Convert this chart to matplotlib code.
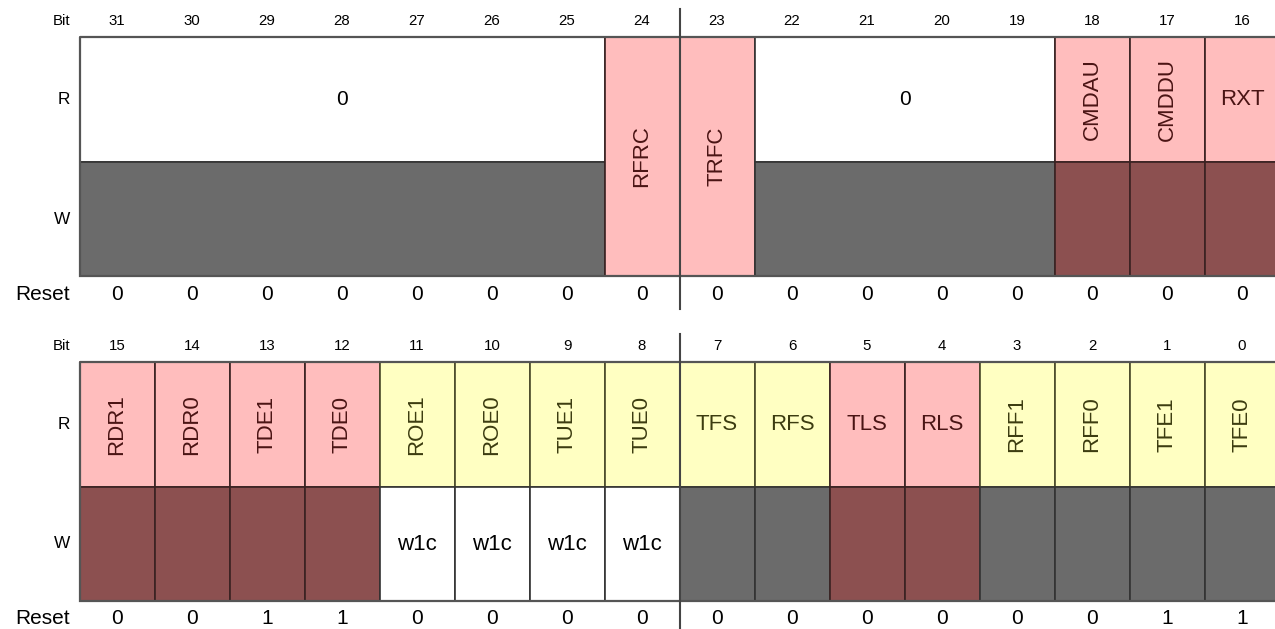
import matplotlib.pyplot as plt
from matplotlib.patches import Rectangle

plt.rcParams['font.family'] = ['Liberation Sans', 'DejaVu Sans']

# register fields, upper half (bits 31..16)
top_names = ["0", "RFRC", "TRFC", "0", "CMDAU", "CMDDU", "RXT"]
top_msb = [31, 24, 23, 22, 18, 17, 16]
top_lsb = [25, 24, 23, 19, 18, 17, 16]
top_read = ["white", "pink", "pink", "white", "pink", "pink", "pink"]
top_write = ["gray", "span", "span", "gray", "dark", "dark", "dark"]
top_vertical = [False, True, True, False, True, True, False]
top_reset = [0, 0, 0, 0, 0, 0, 0, 0, 0, 0, 0, 0, 0, 0, 0, 0]

# lower half (bits 15..0)
bot_names = ["RDR1", "RDR0", "TDE1", "TDE0", "ROE1", "ROE0", "TUE1", "TUE0",
             "TFS", "RFS", "TLS", "RLS", "RFF1", "RFF0", "TFE1", "TFE0"]
bot_msb = list(range(15, -1, -1))
bot_lsb = list(range(15, -1, -1))
bot_read = ["pink"] * 4 + ["yellow"] * 6 + ["pink"] * 2 + ["yellow"] * 4
bot_write = ["dark"] * 4 + ["w1c"] * 4 + ["gray"] * 2 + ["dark"] * 2 + ["gray"] * 4
bot_vertical = [True] * 8 + [False] * 4 + [True] * 4
bot_reset = [0, 0, 1, 1, 0, 0, 0, 0, 0, 0, 0, 0, 0, 0, 1, 1]

fill = {"white": "white", "pink": "#ffbdbd", "yellow": "#ffffc2",
        "gray": "#6b6b6b", "dark": "#8c5050", "w1c": "white"}
text_col = {"white": "black", "pink": "#4a1414", "yellow": "#3c3c10"}
edge_col = {"white": "#333333", "pink": "#3a2222", "yellow": "#4a4a2a"}

X0 = 79.5
CELL = 75.0


def draw_register(ax, y0, msb_top, names, msbs, lsbs, rd, wr, vert, resets):
    y_top, y_mid, y_bot = y0 + 16, y0 + 141, y0 + 255
    # labels on the left
    ax.text(70, y0, "Bit", ha="right", va="center", fontsize=10.8)
    ax.text(70, (y_top + y_mid) / 2, "R", ha="right", va="center", fontsize=12.4)
    ax.text(70, (y_mid + y_bot) / 2, "W", ha="right", va="center", fontsize=12.4)
    ax.text(70, y_bot + 18, "Reset", ha="right", va="center", fontsize=15)
    for i in range(16):
        xc = X0 + (i + 0.5) * CELL
        ax.text(xc, y0, str(msb_top - i), ha="center", va="center", fontsize=10.8)
        ax.text(xc, y_bot + 18, str(resets[i]), ha="center", va="center", fontsize=15)

    for name, hi, lo, r, w, v in zip(names, msbs, lsbs, rd, wr, vert):
        x = X0 + (msb_top - hi) * CELL
        width = (hi - lo + 1) * CELL
        ec = edge_col[r]
        if w == "span":
            ax.add_patch(Rectangle((x, y_top), width, y_bot - y_top, fc=fill[r], ec=ec, lw=1.2))
            ty = (y_top + y_bot) / 2
        else:
            ax.add_patch(Rectangle((x, y_top), width, y_mid - y_top, fc=fill[r], ec=ec, lw=1.2))
            wec = "#3a2222" if w == "dark" else "#333333"
            ax.add_patch(Rectangle((x, y_mid), width, y_bot - y_mid, fc=fill[w], ec=wec, lw=1.2))
            ty = (y_top + y_mid) / 2
            if w == "w1c":
                ax.text(x + width / 2, (y_mid + y_bot) / 2, "w1c", ha="center", va="center",
                        fontsize=16)
        fs = 15 if name == "0" else 16
        ax.text(x + width / 2, ty, name, ha="center", va="center", fontsize=fs,
                rotation=90 if v else 0, color=text_col[r])

    # outer frame
    ax.add_patch(Rectangle((X0, y_top), 16 * CELL, y_bot - y_top, fc="none", ec="#555555", lw=1.6))
    # byte boundary marker
    xm = X0 + 8 * CELL
    ax.plot([xm, xm], [y0 - 12, y_bot + 33], color="#444444", lw=1.5)


fig = plt.figure(figsize=(12.75, 6.29), dpi=100)
ax = fig.add_axes([0, 0, 1, 1])
ax.set_xlim(0, 1275)
ax.set_ylim(629, 0)
ax.axis("off")

draw_register(ax, 21, 31, top_names, top_msb, top_lsb, top_read, top_write, top_vertical, top_reset)
draw_register(ax, 346, 15, bot_names, bot_msb, bot_lsb, bot_read, bot_write, bot_vertical, bot_reset)

fig.savefig("out.png", dpi=100)
